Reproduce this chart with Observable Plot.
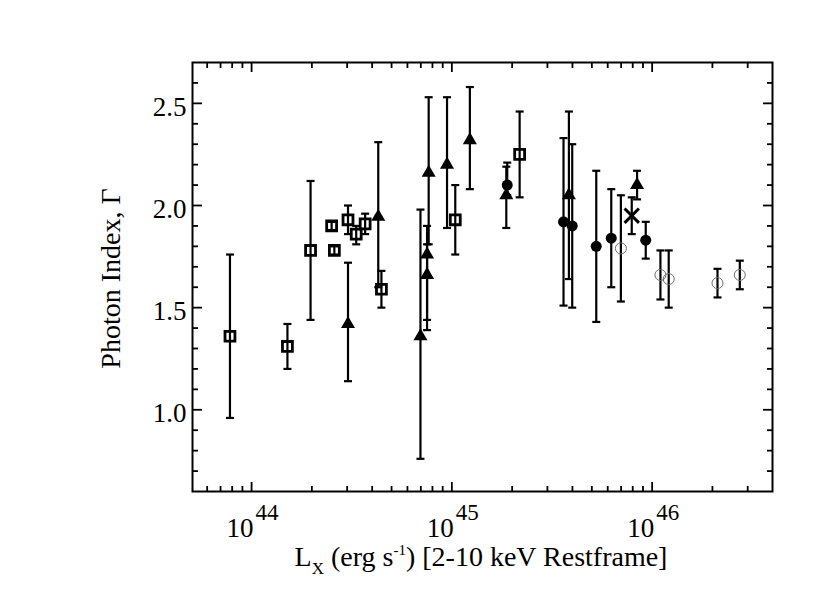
<!DOCTYPE html>
<html><head><meta charset="utf-8">
<script src="https://cdn.jsdelivr.net/npm/d3@7"></script>
<script src="https://cdn.jsdelivr.net/npm/@observablehq/plot@0.6"></script>
<style>
body{margin:0;background:#fff;}
#chart{width:830px;height:613px;}
</style>
</head><body><div id="chart"></div>
<script>
// ---- data (L_X in erg/s, photon index, lower and upper error bounds) ----
const squareLx    = [7.8e43, 1.51e44, 1.97e44, 2.51e44, 2.59e44, 3.03e44, 3.33e44, 3.69e44, 4.45e44, 1.04e45, 2.18e45];
const squareGamma = [1.36, 1.31, 1.78, 1.90, 1.78, 1.93, 1.86, 1.91, 1.59, 1.93, 2.25];
const squareLo    = [0.96, 1.20, 1.44, 1.88, 1.76, 1.86, 1.81, 1.86, 1.50, 1.76, 2.04];
const squareHi    = [1.76, 1.42, 2.12, 1.92, 1.80, 2.00, 1.90, 1.96, 1.68, 2.10, 2.46];

const triLx    = [3.03e44, 4.29e44, 6.97e44, 7.52e44, 7.52e44, 7.66e44, 9.46e44, 1.23e45, 1.87e45, 3.84e45, 8.41e45];
const triGamma = [1.42, 1.945, 1.36, 1.76, 1.66, 2.16, 2.20, 2.32, 2.05, 2.05, 2.10];
const triLo    = [1.14, 1.60, 0.76, 1.39, 1.44, 1.81, 1.89, 2.08, 1.89, 1.64, 2.03];
const triHi    = [1.72, 2.31, 1.98, 1.90, 1.81, 2.53, 2.53, 2.58, 2.19, 2.46, 2.17];

const dotLx    = [1.89e45, 3.61e45, 3.99e45, 5.26e45, 6.25e45, 9.29e45];
const dotGamma = [2.10, 1.92, 1.90, 1.80, 1.84, 1.83];
const dotLo    = [2.05, 1.51, 1.50, 1.43, 1.60, 1.74];
const dotHi    = [2.21, 2.33, 2.30, 2.17, 2.08, 1.92];

const crossLx    = [7.91e45];
const crossGamma = [1.95];
const crossLo    = [1.86];
const crossHi    = [2.04];

const ringLx    = [6.98e45, 1.10e46, 1.21e46, 2.12e46, 2.74e46];
const ringGamma = [1.79, 1.66, 1.64, 1.62, 1.66];
const ringLo    = [1.53, 1.54, 1.50, 1.55, 1.59];
const ringHi    = [2.05, 1.78, 1.78, 1.69, 1.73];

// ---- axes ----
const xDomain = [5.07e43, 3.99e46];
const yDomain = [0.6, 2.7];
const xMajor = [1e44, 1e45, 1e46];
const xMajorExp = ["44", "45", "46"];
const xMinor = [6e43, 7e43, 8e43, 9e43, 2e44, 3e44, 4e44, 5e44, 6e44, 7e44, 8e44, 9e44,
                2e45, 3e45, 4e45, 5e45, 6e45, 7e45, 8e45, 9e45, 2e46, 3e46];
const yMajor = [1.0, 1.5, 2.0, 2.5];
const yMinor = [0.7, 0.8, 0.9, 1.1, 1.2, 1.3, 1.4, 1.6, 1.7, 1.8, 1.9, 2.1, 2.2, 2.3, 2.4, 2.6];
const yTitle = "Photon Index, Γ";

const rows = (lx, g, lo, hi) => lx.map((x, i) => ({x, g: g[i], lo: lo[i], hi: hi[i]}));
const squares = rows(squareLx, squareGamma, squareLo, squareHi);
const tris = rows(triLx, triGamma, triLo, triHi);
const dots = rows(dotLx, dotGamma, dotLo, dotHi);
const crosses = rows(crossLx, crossGamma, crossLo, crossHi);
const rings = rows(ringLx, ringGamma, ringLo, ringHi);
const all = [...squares, ...tris, ...dots, ...crosses, ...rings];

const capSymbol = {draw(ctx, size) { const w = Math.sqrt(size / Math.PI); ctx.moveTo(-w, 0); ctx.lineTo(w, 0); }};
const FONT = "Liberation Serif, Times New Roman, serif";
const noText = () => "";

const plot = Plot.plot({
  width: 830, height: 613,
  marginLeft: 192, marginRight: 58, marginTop: 62, marginBottom: 122,
  x: {type: "log", domain: xDomain},
  y: {domain: yDomain},
  style: {fontFamily: FONT, background: "#fff"},
  marks: [
    // inward ticks on all four sides
    Plot.axisX({anchor: "bottom", ticks: xMajor, tickSize: -9, tickFormat: noText, label: null, strokeWidth: 1.8}),
    Plot.axisX({anchor: "bottom", ticks: xMinor, tickSize: -5, tickFormat: noText, label: null, strokeWidth: 1.8}),
    Plot.axisX({anchor: "top", ticks: xMajor, tickSize: -9, tickFormat: noText, label: null, strokeWidth: 1.8}),
    Plot.axisX({anchor: "top", ticks: xMinor, tickSize: -5, tickFormat: noText, label: null, strokeWidth: 1.8}),
    Plot.axisY({anchor: "left", ticks: yMajor, tickSize: -10, tickFormat: noText, label: null, strokeWidth: 1.8}),
    Plot.axisY({anchor: "left", ticks: yMinor, tickSize: -6, tickFormat: noText, label: null, strokeWidth: 1.8}),
    Plot.axisY({anchor: "right", ticks: yMajor, tickSize: -10, tickFormat: noText, label: null, strokeWidth: 1.8}),
    Plot.axisY({anchor: "right", ticks: yMinor, tickSize: -6, tickFormat: noText, label: null, strokeWidth: 1.8}),
    // y tick labels
    Plot.axisY({anchor: "left", ticks: yMajor, tickSize: 0, tickPadding: 6, tickFormat: d3.format(".1f"),
                label: null, fontSize: 27, dy: 4, fill: "black"}),
    // x tick labels 10^n
    Plot.text(xMajor, {x: d => d, frameAnchor: "bottom", text: () => "10", textAnchor: "end",
                       lineAnchor: "bottom", dx: 2, dy: 45, fontSize: 27, fill: "black"}),
    Plot.text(xMajor, {x: d => d, frameAnchor: "bottom", text: (d, i) => xMajorExp[i], textAnchor: "start",
                       lineAnchor: "bottom", dx: 4, dy: 28, fontSize: 23, fill: "black"}),
    // y title
    Plot.text([yTitle], {frameAnchor: "left", text: d => d, rotate: -90, textAnchor: "middle",
                         dx: -81, dy: 1.5, fontSize: 28, fill: "black"}),
    // error bars
    Plot.ruleX(all, {x: "x", y1: "lo", y2: "hi", stroke: "black", strokeWidth: 2.2}),
    Plot.dot(all, {x: "x", y: "lo", symbol: capSymbol, r: 4, stroke: "black", strokeWidth: 2.2, fill: "none"}),
    Plot.dot(all, {x: "x", y: "hi", symbol: capSymbol, r: 4, stroke: "black", strokeWidth: 2.2, fill: "none"}),
    // markers
    Plot.dot(squares, {x: "x", y: "g", symbol: "square", r: 5.6, stroke: "black", strokeWidth: 2.8, fill: "none"}),
    Plot.dot(tris, {x: "x", y: "g", symbol: "triangle", r: 5.2, fill: "black", stroke: "none"}),
    Plot.dot(dots, {x: "x", y: "g", symbol: "circle", r: 5.5, fill: "black", stroke: "none"}),
    Plot.dot(crosses, {x: "x", y: "g", symbol: "times", r: 6.6, stroke: "black", strokeWidth: 3, fill: "none"}),
    Plot.dot(rings, {x: "x", y: "g", symbol: "circle", r: 5.5, stroke: "#6e6e6e", strokeWidth: 1, fill: "none"}),
    Plot.frame({stroke: "black", strokeWidth: 2})
  ]
});

// x-axis title with sub/superscripts
const svg = d3.select(plot);
const t = svg.append("text")
  .attr("x", 481).attr("y", 566)
  .attr("text-anchor", "middle")
  .attr("font-family", FONT).attr("font-size", 28).attr("fill", "black");
t.append("tspan").text("L");
t.append("tspan").attr("font-size", 17).attr("dy", 8).text("X");
t.append("tspan").attr("dy", -8).text(" (erg s");
t.append("tspan").attr("font-size", 15).attr("dy", -11).text("-1");
t.append("tspan").attr("dy", 11).text(") [2-10 keV Restframe]");

document.getElementById("chart").appendChild(plot);
</script>
</body></html>
